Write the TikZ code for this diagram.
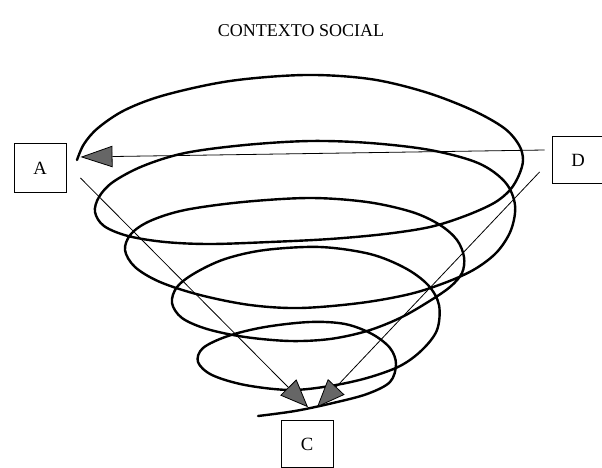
\documentclass[tikz,border=0pt]{standalone}
\usepackage{fontspec}
\setmainfont{Liberation Serif}
\usetikzlibrary{arrows.meta, calc}

\tikzset{
  letterbox/.style={draw, line width=0.7pt, minimum width=39pt, minimum height=35pt,
    inner sep=0pt, font=\fontsize{14}{16}\selectfont},
  spiral/.style={line width=1.8pt, line cap=round, line join=round},
  longarr/.style={line width=0.6pt, -{Triangle[length=24pt, width=16pt, fill=black!60]}},
  arr/.style={line width=0.6pt, -{Triangle[length=21pt, width=17pt, fill=black!60]}},
}

\begin{document}
\begin{tikzpicture}[x=0.75pt, y=-0.75pt]
  \useasboundingbox (0,0) rectangle (602,467);

  % title
  \node (title) at (301,31) {\fontsize{13.5}{16}\selectfont CONTEXTO SOCIAL};

  % boxes
  \node[letterbox, minimum height=37pt] (A) at (40,168) {A};
  \node[letterbox] (D) at (578,160) {D};
  \node[letterbox] (C) at (307,444) {C};

  % spiral, from the top turn down to C
  \draw[spiral] plot[smooth, tension=0.55] coordinates {
    (77,160) (84,144) (98,128) (125,110) (165,95) (230,81) (305,75) (370,79)
    (425,92) (472,110) (504,128) (519,145) (523,160) (519,175) (510,190)
    (494,203) (465,216) (430,227) (385,234) (330,239) (270,242) (210,244)
    (165,242) (128,236) (104,226) (95,212) (99,197) (113,182) (143,166)
    (185,153) (245,145) (310,141) (370,143) (430,150) (478,163) (505,182)
    (515,205) (511,230) (497,252) (475,269) (447,282) (410,294) (360,303)
    (300,308) (250,305) (200,295) (160,282) (135,267) (125,250) (131,234)
    (150,221) (185,210) (243,202) (310,198) (367,202) (412,212) (440,225)
    (457,240) (464,257) (462,273) (450,287) (428,302) (400,318) (367,331)
    (330,339) (290,341) (245,337) (207,329) (182,318) (172,303) (177,287)
    (195,273) (225,259) (265,250) (320,247) (370,254) (405,268) (428,285)
    (439,305) (437,330) (422,350) (400,366) (367,378) (330,386) (290,390)
    (245,385) (212,375) (198,362) (203,348) (228,336) (265,327) (310,322)
    (345,324) (372,334) (390,348) (396,364) (390,382) (367,394) (333,403)
    (295,411) (258,416)};

  % arrows
  \draw[longarr] ($(D.west)+(-7,-10)$) -- ($(A.east)+(14,-11)$);
  \draw[arr] ($(A.east)+(14,10)$) -- ($(C.north)+(1,-13)$);
  \draw[arr] ($(D.west)+(-12,12)$) -- ($(C.north)+(10,-13)$);
\end{tikzpicture}
\end{document}
